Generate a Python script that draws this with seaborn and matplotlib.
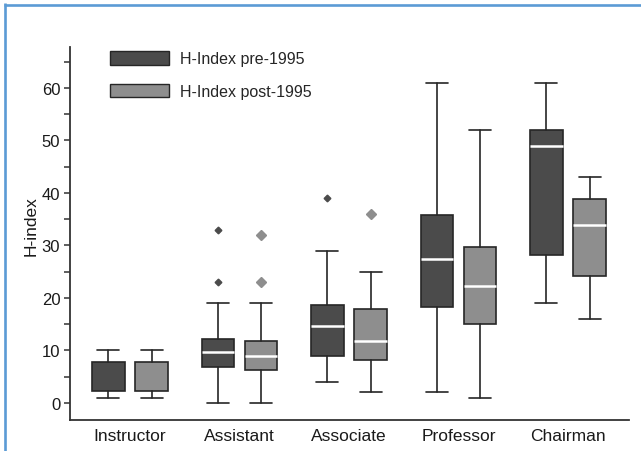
import matplotlib
matplotlib.use("Agg")
import matplotlib.pyplot as plt
from matplotlib.lines import Line2D
from matplotlib.patches import Patch
from matplotlib.ticker import MultipleLocator
import numpy as np
import seaborn as sns

categories = ["Instructor", "Assistant", "Associate", "Professor", "Chairman"]
series = ["H-Index pre-1995", "H-Index post-1995"]

# Box summaries per academic rank: whisker ends, quartiles, median, outliers
pre_low = [1, 0, 4, 2, 19]
pre_q1 = [2.2, 6.9, 9.0, 18.2, 28.1]
pre_med = [2.2, 9.7, 14.6, 27.4, 48.9]
pre_q3 = [7.9, 12.2, 18.7, 35.9, 52]
pre_high = [10, 19, 29, 61, 61]
pre_out = [[], [23, 33], [39], [], []]

post_low = [1, 0, 2, 1, 16]
post_q1 = [2.2, 6.2, 8.1, 15.1, 24.1]
post_med = [2.2, 8.9, 11.8, 22.3, 33.9]
post_q3 = [7.9, 11.8, 17.9, 29.8, 38.8]
post_high = [10, 19, 25, 52, 43]
post_out = [[], [23, 32], [36], [], []]

y_ticks = [0, 10, 20, 30, 40, 50, 60]

sns.set_theme(style="ticks")
plt.rcParams["font.family"] = ["Liberation Sans", "DejaVu Sans"]

W, H = 641, 452
fig = plt.figure(figsize=(W / 100, H / 100), dpi=100)
ax = fig.add_axes([70 / W, (H - 421) / H, (629 - 70) / W, (421 - 48) / H])

dark_fill, light_fill = "#4b4b4b", "#8e8e8e"
edge = "#262626"


def stats_for(low, q1, med, q3, high, out):
    return [
        dict(whislo=a, q1=b, med=c, q3=d, whishi=e, fliers=f)
        for a, b, c, d, e, f in zip(low, q1, med, q3, high, out)
    ]


pos = np.arange(len(categories))
offset, width, capw = 0.198, 0.297, 0.2

groups = [
    (stats_for(pre_low, pre_q1, pre_med, pre_q3, pre_high, pre_out), -offset, dark_fill, 3.4),
    (stats_for(post_low, post_q1, post_med, post_q3, post_high, post_out), offset, light_fill, 4.6),
]

for stats, dx, fill, fsize in groups:
    art = ax.bxp(
        stats,
        positions=pos + dx,
        widths=width,
        capwidths=capw,
        patch_artist=True,
        showfliers=True,
        boxprops=dict(facecolor=fill, edgecolor=edge, linewidth=1.2),
        medianprops=dict(color="white", linewidth=1.8),
        whiskerprops=dict(color=edge, linewidth=1.2),
        capprops=dict(color=edge, linewidth=1.2),
        flierprops=dict(marker="D", markersize=fsize, markerfacecolor=fill,
                        markeredgecolor=fill, linestyle="none"),
        manage_ticks=False,
    )
    # a median sitting on the lower quartile is not drawn
    for line, st in zip(art["medians"], stats):
        if st["med"] <= st["q1"]:
            line.set_visible(False)

ax.set_xlim(-0.548, 4.557)
ax.set_ylim(-3.24, 67.81)
ax.set_xticks(pos)
ax.set_xticklabels(categories, fontsize=12.5, color="#1a1a1a")
ax.tick_params(axis="x", length=0, pad=6)
ax.set_yticks(y_ticks)
ax.yaxis.set_minor_locator(MultipleLocator(5))
ax.tick_params(axis="y", which="both", length=4, width=1.1, color="#333333",
               labelsize=12, labelcolor="#1a1a1a", pad=3, direction="out")
ax.set_ylabel("H-index", fontsize=12.5, color="#1a1a1a")
ax.yaxis.set_label_coords(-0.056, 0.523)

sns.despine(ax=ax)
for side in ("left", "bottom"):
    ax.spines[side].set_color("#333333")
    ax.spines[side].set_linewidth(1.3)
ax.grid(False)

handles = [Patch(facecolor=dark_fill, edgecolor=edge, linewidth=1.0),
           Patch(facecolor=light_fill, edgecolor=edge, linewidth=1.0)]
fig.legend(handles, series, loc="upper left",
           bbox_to_anchor=(110 / W, 1 - 52 / H), frameon=False,
           fontsize=11.5, handlelength=3.7, handleheight=0.95,
           handletextpad=0.7, labelspacing=1.08, borderpad=0, borderaxespad=0)

# blue frame along the top and left edges
frame_color = "#5b9bd5"
fig.add_artist(Line2D([5.3 / W, 5.3 / W], [0, 1 - 4 / H], transform=fig.transFigure,
                      color=frame_color, linewidth=1.9, solid_capstyle="butt"))
fig.add_artist(Line2D([4 / W, 1], [1 - 5.5 / H, 1 - 5.5 / H], transform=fig.transFigure,
                      color=frame_color, linewidth=1.9, solid_capstyle="butt"))

fig.savefig("out.png", dpi=100)
